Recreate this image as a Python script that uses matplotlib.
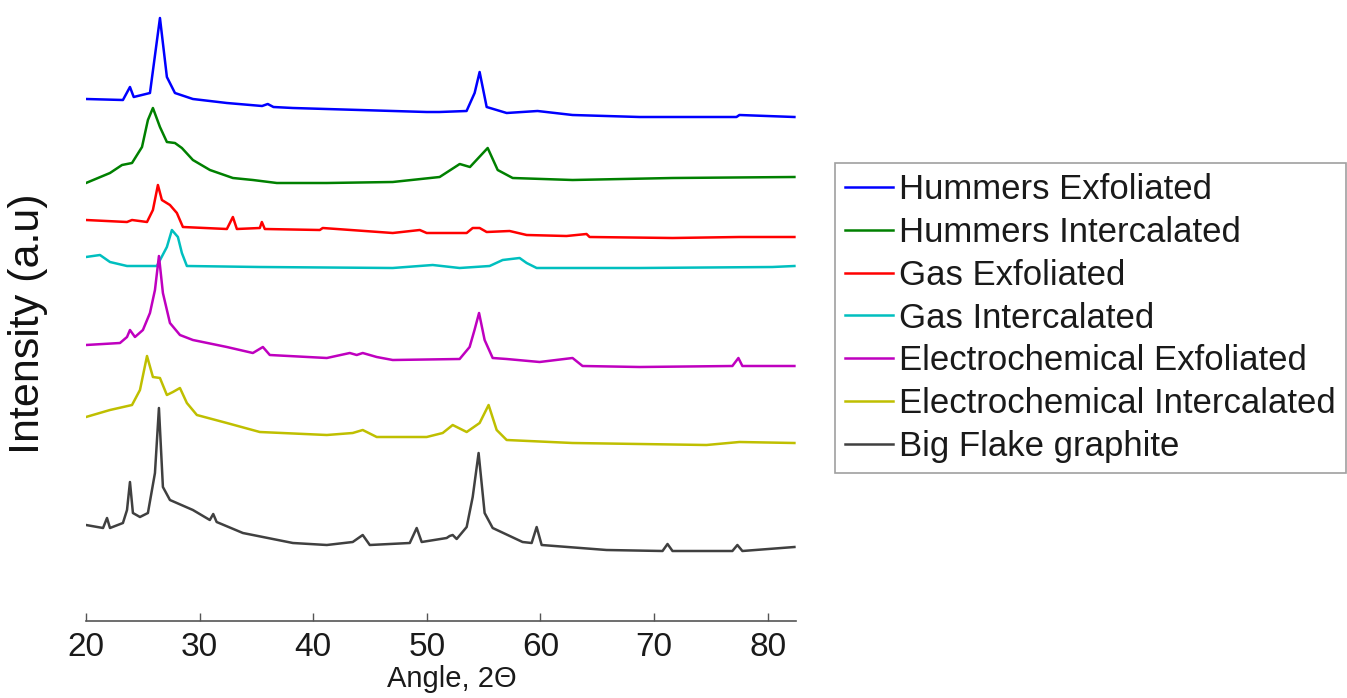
import matplotlib
matplotlib.use('Agg')
import matplotlib.pyplot as plt

plt.rcParams['font.family'] = ['Liberation Sans', 'DejaVu Sans']

# XRD patterns (angle in degrees, stacked intensity in a.u.)
labels = ['Hummers Exfoliated', 'Hummers Intercalated', 'Gas Exfoliated',
          'Gas Intercalated', 'Electrochemical Exfoliated',
          'Electrochemical Intercalated', 'Big Flake graphite']
colors = [(0, 0, 1), (0, 0.5, 0), (1, 0, 0), (0, 0.75, 0.75),
          (0.75, 0, 0.75), (0.75, 0.75, 0), (0.25, 0.25, 0.25)]

hummers_exf_x = [20.0, 23.25, 23.87, 24.2, 25.63, 26.51, 27.12, 27.83, 29.41, 32.4, 35.5, 36.0, 36.5,
                 38.21, 44.1, 49.99, 51.1, 53.5, 54.21, 54.65, 55.27, 57.03, 59.75, 62.83, 68.73,
                 77.26, 77.52, 82.36]
hummers_exf_y = [544, 543, 556, 546, 550, 625, 566, 550, 544, 540, 537, 539, 536,
                 535, 533, 531, 531, 532, 550, 571, 536, 530, 532, 528, 526,
                 526, 528, 526]

hummers_int_x = [20.0, 22.11, 23.17, 24.05, 24.93, 25.45, 25.89, 26.51, 27.12, 27.83, 28.44, 29.41,
                 30.91, 32.93, 34.69, 36.8, 41.2, 47.0, 51.13, 52.9, 53.8, 55.36, 56.24, 57.56,
                 62.83, 71.63, 82.36]
hummers_int_y = [460, 470, 478, 480, 496, 523, 535, 516, 501, 500, 495, 483,
                 473, 465, 463, 460, 460, 461, 466, 479, 476, 495, 473, 465,
                 463, 465, 466]

gas_exf_x = [20.0, 23.61, 24.05, 25.37, 25.89, 26.33, 26.68, 27.39, 28.0, 28.53, 32.4, 32.93, 33.28,
             35.3, 35.48, 35.74, 40.58, 40.84, 47.0, 49.38, 49.99, 53.51, 54.04, 54.65, 55.27,
             57.29, 58.79, 62.3, 64.06, 64.33, 71.63, 77.52, 82.36]
gas_exf_y = [423, 421, 423, 421, 433, 458, 443, 438, 430, 416, 414, 426, 414,
             415, 421, 414, 413, 415, 410, 413, 410, 410, 415, 415, 411,
             412, 408, 407, 409, 406, 405, 406, 406]

gas_int_x = [20.0, 21.23, 22.11, 23.61, 26.24, 27.12, 27.56, 28.09, 28.44, 28.88, 35.3, 47.0,
             50.52, 52.89, 55.53, 56.68, 58.17, 58.79, 59.67, 68.73, 80.42, 82.36]
gas_int_y = [386, 388, 381, 377, 377, 396, 413, 406, 390, 377, 376, 375,
             378, 375, 377, 383, 385, 380, 375, 375, 376, 377]

ec_exf_x = [20.0, 22.99, 23.61, 23.87, 24.31, 25.01, 25.63, 26.07, 26.42, 26.77, 27.39, 28.27,
            29.41, 32.4, 34.69, 35.57, 36.18, 41.2, 43.22, 43.83, 44.36, 45.59, 47.0, 52.89,
            53.77, 54.2, 54.6, 55.09, 55.8, 57.03, 59.93, 62.83, 63.71, 68.73, 76.9, 77.43,
            77.78, 82.36]
ec_exf_y = [298, 300, 306, 313, 306, 313, 330, 353, 387, 350, 320, 308,
            303, 296, 290, 296, 288, 285, 290, 288, 290, 286, 283, 284,
            296, 313, 330, 303, 285, 284, 281, 285, 277, 276, 277, 285,
            277, 277]

ec_int_x = [20.0, 22.11, 24.05, 24.75, 25.37, 25.89, 26.51, 27.12, 27.65, 28.27, 28.88, 29.76,
            32.4, 35.3, 41.2, 43.48, 44.36, 45.59, 49.99, 51.4, 52.28, 53.51, 54.65, 55.44,
            56.15, 57.03, 62.83, 74.62, 77.52, 82.36]
ec_int_y = [226, 233, 238, 253, 287, 266, 265, 248, 251, 255, 240, 228,
            220, 211, 208, 210, 213, 206, 206, 210, 218, 211, 220, 238,
            213, 203, 200, 198, 201, 200]

flake_x = [20.0, 21.5, 21.85, 22.11, 23.25, 23.61, 23.87, 24.13, 24.75, 25.45, 26.07, 26.42,
           26.77, 27.39, 29.41, 30.9, 31.2, 31.5, 33.81, 38.21, 41.2, 43.48, 44.36, 44.98,
           48.5, 49.11, 49.55, 51.75, 52.01, 52.28, 52.63, 53.51, 54.04, 54.56, 55.09, 55.8,
           58.43, 59.23, 59.67, 60.11, 65.82, 70.75, 71.19, 71.63, 76.9, 77.34, 77.78, 82.36]
flake_y = [118, 115, 125, 115, 120, 133, 161, 130, 126, 130, 170, 235,
           156, 143, 133, 123, 129, 121, 110, 100, 98, 101, 108, 98,
           100, 115, 101, 105, 107, 108, 104, 116, 146, 190, 130, 115,
           101, 100, 116, 98, 93, 92, 99, 92, 92, 98, 92, 96]

xs = [hummers_exf_x, hummers_int_x, gas_exf_x, gas_int_x, ec_exf_x, ec_int_x, flake_x]
ys = [hummers_exf_y, hummers_int_y, gas_exf_y, gas_int_y, ec_exf_y, ec_int_y, flake_y]

fig = plt.figure(figsize=(13.47, 6.98), dpi=100)
ax = fig.add_axes([86 / 1347, 1 - 621 / 698, 710 / 1347, 608 / 698])

for x, y, c, lab in zip(xs, ys, colors, labels):
    ax.plot(x, y, color=c, lw=1.8, label=lab)

ax.set_xlim(20, 82.5)
ax.set_ylim(22, 630)
ax.set_xticks([20, 30, 40, 50, 60, 70, 80])
ax.set_yticks([])
for s in ['top', 'right', 'left']:
    ax.spines[s].set_visible(False)
ax.spines['bottom'].set_color('#555555')
ax.spines['bottom'].set_linewidth(1.2)
ax.tick_params(axis='x', direction='in', length=6, width=1, color='#555555',
               labelsize=24, pad=8, labelcolor='#1a1a1a')
ax.set_xlabel('Angle, 2\u0398', fontsize=21, color='#1a1a1a')
ax.xaxis.set_label_coords(0.515, -0.072)
fig.text(28 / 1347, 1 - 324 / 698, 'Intensity (a.u)', rotation=90,
         ha='center', va='center', fontsize=31, color='#111111')

leg = ax.legend(loc='upper left', bbox_to_anchor=(835 / 1347, 1 - 163 / 698),
                bbox_transform=fig.transFigure, fontsize=25, frameon=True,
                fancybox=False, edgecolor='#888888', handlelength=1.38,
                handletextpad=0.15, labelspacing=0.28, borderpad=0.3,
                borderaxespad=0)
leg.get_frame().set_linewidth(1.2)
for t in leg.get_texts():
    t.set_color('#1a1a1a')

fig.savefig('out.png', dpi=100)
